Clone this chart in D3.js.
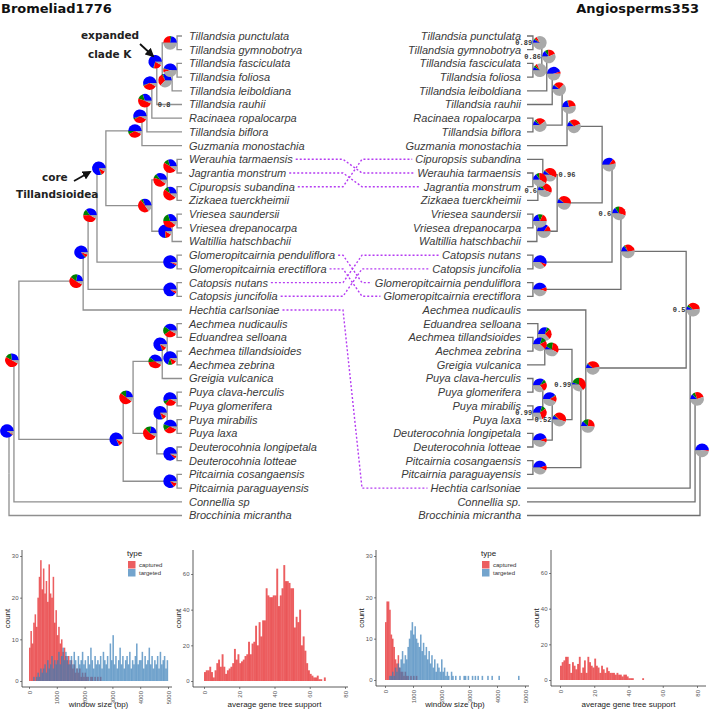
<!DOCTYPE html>
<html><head><meta charset="utf-8">
<script src="https://cdn.jsdelivr.net/npm/d3@7"></script>
<style>body{margin:0;background:#fff}svg{display:block}</style>
</head><body>
<svg id="chart" width="709" height="710"></svg>
<script>
// ---------------- DATA ----------------
// clade tables: [id, top child, bottom child, node depth (tips = 35), pie [concordant, top alternative, other conflict, uninformative]]
const leftClades = [
 ["ROOT","N2","Brocchinia micrantha",0,null],
 ["N2","N3","Connellia sp",1.0,[.9,.01,.02,.07]],
 ["N3","N4","N5",2.0,[.27,.15,.5,.08]],
 ["N4","N6","Hechtia carlsoniae",15.0,[.22,.18,.52,.08]],
 ["N6","N7","CAT",16.0,[.85,.02,.08,.05]],
 ["N7","CORE","GLO",17.8,[.35,.15,.42,.08]],
 ["CORE","T1","V",19.6,[.8,.02,.1,.08]],
 ["T1","T2","Guzmania monostachia",26.9,[.5,.08,.35,.07]],
 ["T2","T3","Tillandsia biflora",27.9,[.55,.03,.35,.07]],
 ["T3","T4","Racinaea ropalocarpa",28.9,[.3,.15,.48,.07]],
 ["T4","T5","Tillandsia rauhii",29.9,[.55,.02,.35,.08]],
 ["T5","PG","T6",31.0,[.7,.02,.2,.08]],
 ["PG","Tillandsia punctulata","Tillandsia gymnobotrya",34,[.22,.03,.25,.5]],
 ["T6","FF","Tillandsia leiboldiana",33,[.3,.03,.3,.37]],
 ["FF","Tillandsia fasciculata","Tillandsia foliosa",34,[.45,.02,.08,.45]],
 ["V","W","VS",28.9,[.3,.05,.5,.15]],
 ["W","WJ","CZ",32,[.35,.1,.45,.1]],
 ["WJ","Werauhia tarmaensis","Jagrantia monstrum",34,[.3,.12,.48,.1]],
 ["CZ","Cipuropsis subandina","Zizkaea tuerckheimii",34,[.3,.1,.5,.1]],
 ["VS","VV","Waltillia hatschbachii",33,[.75,.02,.15,.08]],
 ["VV","Vriesea saundersii","Vriesea drepanocarpa",34,[.3,.2,.4,.1]],
 ["GLO","Glomeropitcairnia penduliflora","Glomeropitcairnia erectiflora",34,[.92,0,.04,.04]],
 ["CAT","Catopsis nutans","Catopsis juncifolia",34,[.9,0,.05,.05]],
 ["N5","N8","PIT",23.1,[.82,.01,.1,.07]],
 ["N8","B","P",25.1,[.25,.15,.5,.1]],
 ["B","A","Greigia vulcanica",31,[.4,.12,.4,.08]],
 ["A","AE","AA",32,[.8,.02,.1,.08]],
 ["AE","Aechmea nudicaulis","Eduandrea selloana",34,[.4,.2,.32,.08]],
 ["AA","Aechmea tillandsioides","Aechmea zebrina",34,[.7,.1,.12,.08]],
 ["P","PS","D",29.9,[.22,.15,.55,.08]],
 ["PS","CG","ML",32,[.8,.02,.1,.08]],
 ["CG","Puya clava-herculis","Puya glomerifera",34,[.55,.08,.3,.07]],
 ["ML","Puya mirabilis","Puya laxa",34,[.45,.15,.33,.07]],
 ["D","Deuterocohnia longipetala","Deuterocohnia lotteae",34,[.88,0,.06,.06]],
 ["PIT","Pitcairnia cosangaensis","Pitcairnia paraguayensis",34,[.85,0,.1,.05]]
];
const rightClades = [
 ["ROOT","R21","Brocchinia micrantha",0,null],
 ["R21","R20","Connellia sp.",1.0,[.5,0,.02,.48]],
 ["R20","R13","Hechtia carlsoniae",2.0,[.12,.08,.25,.55]],
 ["R13","R12","R14",2.8,[.08,.05,.35,.52]],
 ["R12","R11","GLO",16.0,[.15,.03,.3,.52]],
 ["R11","R10","CAT",17.8,[.15,.1,.3,.45]],
 ["R10","R9","V",19.8,[.35,0,.12,.53]],
 ["R9","R8","Guzmania monostachia",26.9,[.12,.02,.3,.56]],
 ["R8","R7","RB",27.9,[.2,.02,.25,.53]],
 ["RB","Racinaea ropalocarpa","Tillandsia biflora",33.8,[.1,.05,.25,.6]],
 ["R7","R6","Tillandsia rauhii",29.9,[.1,.02,.25,.63]],
 ["R6","R5","Tillandsia leiboldiana",31.0,[.45,0,.05,.5]],
 ["R5","PG","FF",32.0,[.15,.08,.2,.57]],
 ["PG","Tillandsia punctulata","Tillandsia gymnobotrya",33.8,[.08,.03,.06,.83]],
 ["FF","Tillandsia fasciculata","Tillandsia foliosa",33.8,[.08,.05,.05,.82]],
 ["V","WC","VSW",28.9,[.1,.02,.4,.48]],
 ["WC","Cipuropsis subandina","WJZ",31.8,[.1,.02,.45,.43]],
 ["WJZ","WJ","Zizkaea tuerckheimii",32.8,[.08,.08,.4,.44]],
 ["WJ","Werauhia tarmaensis","Jagrantia monstrum",33.8,[.15,.08,.35,.42]],
 ["VSW","VV","Waltillia hatschbachii",33.0,[.35,0,.15,.5]],
 ["VV","Vriesea saundersii","Vriesea drepanocarpa",33.8,[.2,.12,.18,.5]],
 ["CAT","Catopsis nutans","Catopsis juncifolia",33.8,[.55,0,.08,.37]],
 ["GLO","Glomeropitcairnia penduliflora","Glomeropitcairnia erectiflora",33.8,[.45,0,.1,.45]],
 ["R14","Aechmea nudicaulis","R15",23.1,[.1,.02,.35,.53]],
 ["R15","R16","PIT",24.1,[.12,.15,.25,.48]],
 ["R16","R17","R19",25.9,[.05,.2,.4,.35]],
 ["R17","R18","Greigia vulcanica",31.4,[.08,.2,.3,.42]],
 ["R18","Eduandrea selloana","AA",32.8,[.3,.08,.25,.37]],
 ["AA","Aechmea tillandsioides","Aechmea zebrina",33.8,[.3,.12,.2,.38]],
 ["R19","PS","D",29.9,[.1,.03,.42,.45]],
 ["PS","CG","ML",31.8,[.4,.02,.15,.43]],
 ["CG","Puya clava-herculis","Puya glomerifera",33.8,[.35,.08,.22,.35]],
 ["ML","Puya mirabilis","Puya laxa",33.8,[.3,.1,.3,.3]],
 ["D","Deuterocohnia longipetala","Deuterocohnia lotteae",33.8,[.45,0,.1,.45]],
 ["PIT","Pitcairnia cosangaensis","Pitcairnia paraguayensis",33.8,[.45,0,.12,.43]]
];
const pieColors = ["#0000ff","#008000","#ff0000","#a9a9a9"];
const leftSupport = [["T4","0.8"]];
const rightSupport = [["PG","0.89","l"],["R5","0.86","l"],["WC","0.96","r"],["WJZ","0.6","l"],["R11","0.6","l"],["R13","0.5","l"],["R16","0.99","l"],["ML","0.99","l"],["R19","0.52","l"]];
const linkedTaxa = ["Werauhia tarmaensis","Jagrantia monstrum","Cipuropsis subandina","Glomeropitcairnia penduliflora","Glomeropitcairnia erectiflora","Catopsis nutans","Catopsis juncifolia","Hechtia carlsoniae"];

// histograms (bin counts)
const p1Captured = [8,12,9,14,16,13,20,25,29,22, 27,21,24,19,28,21,20,25,14,17, 11,13,9,10,7,8,6,5,6,4, 5,3,4,2,3,2,3,1,2,1, 2,1,1,0,1,1,0,1,0,1, 0,1,0,0,0,0,0,0,0,0, 0,0,0,0,0,0,0,0,0,0, 0,0,0,0,0,0,0,0,0,0, 0,0,0,0,0,0,0,0,0,0, 0,0,0,0,0,0,0,0,0,0];
const p1Targeted = [0,0,0,1,0,1,2,1,3,2, 3,4,2,5,3,4,6,3,5,4, 5,7,4,6,8,5,7,6,4,5, 6,4,7,5,3,6,4,5,7,4, 5,3,6,4,8,5,3,6,4,5, 4,6,3,7,5,4,6,3,9,5, 11,4,6,3,5,8,4,6,3,5, 6,4,7,3,5,4,6,9,4,5, 5,7,3,6,4,5,8,4,6,3, 5,4,6,3,7,4,5,6,3,5];
const p2Support = [5,6,6,8,5,2,6,10,12,8, 15,8,4,6,7,8,10,18,12,15, 10,11,12,14,15,22,15,21,22,31, 20,33,25,34,34,52,48,47,47,48, 48,63,42,48,52,65,56,56,55,52, 52,30,36,33,40,20,25,17,10,6, 4,3,2,2,3,1,1,0,2,0];
const p3Captured = [14,19,19,17,11,10,8,5,4,6, 3,2,2,1,2,1,1,0,1,0, 1,0,1,0,0,0,0,0,0,0, 0,0,0,0,0,0,0,0,0,0, 0,0,0,0,0,0,0,0,0,0, 0,0,0,0,0,0,0,0,0,0, 0,0,0,0,0,0,0,0,0,0, 0,0,0,0,0,0,0,0,0,0, 0,0,0,0,0,0,0,0,0,0, 0,0,0,0,0,0,0,0,0,0];
const p3Targeted = [0,0,0,1,1,2,1,3,2,4, 3,5,7,4,6,5,8,10,12,14, 11,13,10,9,8,11,7,9,6,8, 5,7,4,6,3,5,2,4,3,2, 5,2,3,1,2,1,0,2,1,0, 1,0,0,1,0,0,1,1,0,1, 0,0,1,0,1,0,1,0,0,1, 0,0,0,1,0,0,1,0,0,0, 0,1,0,0,0,0,0,0,0,0, 0,0,0,0,0,1,0,0,0,0];
const p4Support = [8,10,11,13,13,9,4,10,8,6, 9,13,4,7,11,4,13,10,8,7, 12,8,7,4,8,6,4,7,5,4, 4,4,3,4,3,3,2,3,3,2, 1,1,1,0,0,0,0,0,1,0];
const windowTicks = [0,1000,2000,3000,4000,5000];
const supportTicks = [0,20,40,60,80];
const typeLabels = ["captured","targeted"];
const histColors = {captured:"#E41A1C", targeted:"#377EB8"};

// ---------------- DRAW ----------------
const svg = d3.select("#chart");
const leafY = d3.scaleLinear().domain([0,35]).range([36,515.5]);
const leftX = d3.scaleLinear().domain([0,35]).range([9,182]);
const rightX = d3.scaleLinear().domain([0,35]).range([700,527]);
const R = 6.8;

function buildTree(clades){
  const map = new Map(clades.map(c=>[c[0],c]));
  function make(id){
    const c = map.get(id);
    if(!c) return {name:id};
    return {name:id, depth:c[3], pie:c[4], children:[make(c[1]),make(c[2])]};
  }
  return d3.hierarchy(make(clades[0][0]));
}
function layout(root, xs){
  root.leaves().forEach((l,i)=>{ l.py = leafY(i); l.px = xs(35); });
  root.eachAfter(n=>{ if(n.children){ n.py=(n.children[0].py+n.children[n.children.length-1].py)/2; n.px=xs(n.data.depth);} });
}

function drawTree(clades, xs, side, lineColor){
  const root = buildTree(clades);
  layout(root, xs);
  const g = svg.append("g");
  g.selectAll("path.edge").data(root.links()).join("path")
    .attr("fill","none").attr("stroke",lineColor).attr("stroke-width",1.3)
    .attr("d",d=>`M${d.source.px},${d.source.py}V${d.target.py}H${d.target.px}`);
  const pie = side<0
    ? d3.pie().sort(null).startAngle(Math.PI/2).endAngle(Math.PI/2-2*Math.PI)
    : d3.pie().sort(null).startAngle(-Math.PI/2).endAngle(3*Math.PI/2);
  const arc = d3.arc().innerRadius(0).outerRadius(R);
  const nodes = root.descendants().filter(n=>n.children && n.data.pie);
  const pg = g.selectAll("g.pie").data(nodes).join("g")
    .attr("transform",d=>`translate(${d.px+side*7},${d.py})`);
  pg.selectAll("path").data(d=>pie(d.data.pie)).join("path")
    .attr("d",arc).attr("fill",(d,i)=>pieColors[i]);
  const labels = g.selectAll("text.tip").data(root.leaves()).join("text")
    .attr("x",d=> side<0 ? d.px+7 : d.px-6)
    .attr("y",d=>d.py).attr("dy","0.36em")
    .attr("text-anchor", side<0?"start":"end")
    .attr("font-family","Liberation Sans, Arial, sans-serif")
    .attr("font-style","italic").attr("font-size",11).attr("fill","#3a3a3a")
    .text(d=>d.data.name);
  const byName = {};
  labels.each(function(d){ byName[d.data.name.replace(/\.$/,"")] = {y:d.py, x:(side<0? d.px+7+this.getComputedTextLength() : d.px-6-this.getComputedTextLength())}; });
  const nodeById = {}; root.descendants().forEach(n=>{ if(n.children) nodeById[n.data.name]=n; });
  return {root, byName, nodeById, g};
}

const L = drawTree(leftClades, leftX, -1, "#8f8f8f");
const Rt = drawTree(rightClades, rightX, 1, "#6f6f6f");

// support labels
const supFont = "Liberation Mono, DejaVu Sans Mono, monospace";
leftSupport.forEach(([id,t])=>{
  const n = L.nodeById[id];
  L.g.append("text").attr("x",n.px+1).attr("y",n.children[1].py).attr("dy","0.35em")
    .attr("font-family",supFont).attr("font-weight","bold").attr("font-size",7).attr("fill","#333").text(t);
});
rightSupport.forEach(([id,t,pos])=>{
  const n = Rt.nodeById[id];
  const cx = n.px+7;
  Rt.g.append("text").attr("x", pos==="l"? cx-R-1 : cx+R+2).attr("y",n.py).attr("dy","0.35em")
    .attr("text-anchor", pos==="l"?"end":"start")
    .attr("font-family",supFont).attr("font-weight","bold").attr("font-size",7).attr("fill","#333").text(t);
});

// tanglegram connectors
const lg = svg.append("g");
linkedTaxa.forEach(name=>{
  const a = L.byName[name], b = Rt.byName[name];
  lg.append("path").attr("fill","none").attr("stroke","#b53cf2").attr("stroke-width",1.4)
    .attr("stroke-dasharray","2,2")
    .attr("d",`M${a.x+3},${a.y}H343L362,${b.y}H${b.x-3}`);
});

// titles
svg.append("text").attr("x",1).attr("y",13).attr("font-family","DejaVu Sans, sans-serif").attr("font-weight","bold").attr("font-size",13).attr("fill","#111").text("Bromeliad1776");
svg.append("text").attr("x",699).attr("y",13).attr("text-anchor","end").attr("font-family","DejaVu Sans, sans-serif").attr("font-weight","bold").attr("font-size",13).attr("fill","#111").text("Angiosperms353");

// annotations
const defs = svg.append("defs");
defs.append("marker").attr("id","ah").attr("viewBox","0 0 10 10").attr("refX",8).attr("refY",5)
  .attr("markerWidth",5).attr("markerHeight",5).attr("orient","auto")
  .append("path").attr("d","M0,0L10,5L0,10z").attr("fill","#111");
const ann = svg.append("g").attr("font-family","DejaVu Sans, sans-serif").attr("font-weight","bold").attr("font-size",10.5).attr("fill","#222");
ann.append("text").attr("x",81).attr("y",39).text("expanded");
ann.append("text").attr("x",88).attr("y",58).text("clade K");
ann.append("text").attr("x",42).attr("y",181).text("core");
ann.append("text").attr("x",16).attr("y",198).text("Tillandsioidea");
svg.append("line").attr("x1",140).attr("y1",44).attr("x2",153).attr("y2",56).attr("stroke","#111").attr("stroke-width",1.8).attr("marker-end","url(#ah)");
svg.append("line").attr("x1",74).attr("y1",181).attr("x2",90).attr("y2",172).attr("stroke","#111").attr("stroke-width",1.8).attr("marker-end","url(#ah)");

// ---------------- HISTOGRAMS ----------------
const panels = [
 {x0:22,x1:172,yTop:550,yBase:687,xDom:[0,5000],xRng:[29,168],yDom:[0,30],yRng:[681,556],xTicks:windowTicks,yTicks:[0,10,20,30],bw:50,
  series:[[p1Captured,"captured"],[p1Targeted,"targeted"]],xTitle:"window size (bp)",legend:[127,553]},
 {x0:193,x1:348,yTop:550,yBase:687,xDom:[0,80],xRng:[204,345],yDom:[0,60],yRng:[681,574],xTicks:supportTicks,yTicks:[0,20,40,60],bw:1,
  series:[[p2Support,"captured"]],xTitle:"average gene tree support"},
 {x0:376,x1:529,yTop:550,yBase:686,xDom:[0,5000],xRng:[385,525],yDom:[0,30],yRng:[680,556],xTicks:windowTicks,yTicks:[0,10,20,30],bw:50,
  series:[[p3Captured,"captured"],[p3Targeted,"targeted"]],xTitle:"window size (bp)",legend:[481,553]},
 {x0:551,x1:706,yTop:550,yBase:686,xDom:[0,80],xRng:[560,697],yDom:[0,60],yRng:[680,573],xTicks:supportTicks,yTicks:[0,20,40,60],bw:1,
  series:[[p4Support,"captured"]],xTitle:"average gene tree support"}
];
const axFont = "Liberation Sans, Arial, sans-serif";
panels.forEach(p=>{
  const g = svg.append("g");
  const x = d3.scaleLinear().domain(p.xDom).range(p.xRng);
  const y = d3.scaleLinear().domain(p.yDom).range(p.yRng);
  p.series.forEach(([vals,type])=>{
    g.append("g").selectAll("rect").data(vals).join("rect")
      .attr("x",(d,i)=>x(i*p.bw)).attr("width",x(p.bw)-x(0)+0.15)
      .attr("y",d=>y(d)).attr("height",d=>y(0)-y(d))
      .attr("fill",histColors[type]).attr("fill-opacity",0.7);
  });
  g.append("line").attr("x1",p.x0).attr("x2",p.x0).attr("y1",p.yTop).attr("y2",p.yBase).attr("stroke","#333").attr("stroke-width",0.8);
  g.append("line").attr("x1",p.x0).attr("x2",p.x1).attr("y1",p.yBase).attr("y2",p.yBase).attr("stroke","#333").attr("stroke-width",0.8);
  const ya = g.append("g").attr("transform",`translate(${p.x0},0)`).call(d3.axisLeft(y).tickValues(p.yTicks).tickSize(2).tickPadding(1.5));
  const xa = g.append("g").attr("transform",`translate(0,${p.yBase})`).call(d3.axisBottom(x).tickValues(p.xTicks).tickSize(2).tickFormat(d3.format("d")));
  [ya,xa].forEach(a=>{ a.select(".domain").remove(); a.selectAll("line").attr("stroke","#333").attr("stroke-width",0.6);
    a.selectAll("text").attr("font-family",axFont).attr("font-size",6).attr("fill","#555"); });
  xa.selectAll("text").attr("transform","rotate(-90)").attr("text-anchor","end").attr("x",-4).attr("y",0).attr("dy","0.35em");
  g.append("text").attr("x",(p.xRng[0]+p.xRng[1])/2).attr("y",707).attr("text-anchor","middle")
    .attr("font-family",axFont).attr("font-size",8).attr("fill","#222").text(p.xTitle);
  g.append("text").attr("transform",`translate(${p.x0-12},${(p.yTop+p.yBase)/2}) rotate(-90)`).attr("text-anchor","middle")
    .attr("font-family",axFont).attr("font-size",8).attr("fill","#222").text("count");
  if(p.legend){
    const [lx,ly] = p.legend;
    g.append("text").attr("x",lx).attr("y",ly).attr("dy","0.35em").attr("font-family",axFont).attr("font-size",8).attr("fill","#222").text("type");
    typeLabels.forEach((t,i)=>{
      g.append("rect").attr("x",lx+1).attr("y",ly+8+i*8).attr("width",7.5).attr("height",7.5).attr("fill",histColors[t]).attr("fill-opacity",0.7);
      g.append("text").attr("x",lx+12).attr("y",ly+12+i*8).attr("dy","0.35em").attr("font-family",axFont).attr("font-size",6).attr("fill","#333").text(t);
    });
  }
});
</script>
</body></html>
